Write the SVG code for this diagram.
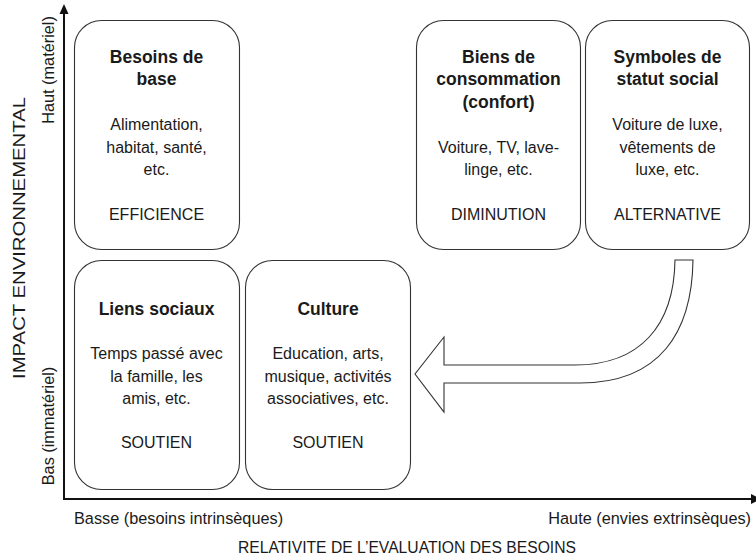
<svg xmlns="http://www.w3.org/2000/svg" width="756" height="558" viewBox="0 0 756 558">
<style>
text{font-family:"Liberation Sans",Arial,sans-serif;fill:#1a1a1a;}
.t{font-weight:bold;font-size:17.5px;text-anchor:middle;}
.b{font-size:16px;text-anchor:middle;}
.box{fill:#fff;stroke:#333;stroke-width:1.1;}
.ax{fill:none;stroke:#111;stroke-width:2;}
.lab{font-size:16.3px;}
</style>
<rect width="756" height="558" fill="#fff"/>
<g id="connectors">
  <path class="ax" d="M64,499 L64,11 M63,499 L752,499"/>
  <polygon points="64,4 59.5,14 68.5,14" fill="#111"/>
  <polygon points="761,499 751,494 751,504" fill="#111"/>
  <path id="arrow-shift" d="M693,260 C692,332 660,383 580,383 L444,383 L444,412 L415,374 L444,337 L444,365 L575,365 C640,365 674,326 675,260 Z" fill="#fff" stroke="#333" stroke-width="1.1"/>
</g>
<g id="node-besoins-base">
  <rect class="box" x="74.5" y="20.5" width="165" height="229" rx="27"/>
  <text class="t" x="156.5" y="62.5">Besoins de</text>
  <text class="t" x="156.5" y="85">base</text>
  <text class="b" x="156.5" y="130">Alimentation,</text>
  <text class="b" x="156.5" y="152.5">habitat, santé,</text>
  <text class="b" x="156.5" y="175">etc.</text>
  <text class="b" x="156.5" y="220">EFFICIENCE</text>
</g>
<g id="node-biens-consommation">
  <rect class="box" x="416.5" y="20.5" width="164" height="229" rx="27"/>
  <text class="t" x="498.5" y="62.5">Biens de</text>
  <text class="t" x="498.5" y="85">consommation</text>
  <text class="t" x="498.5" y="107.5">(confort)</text>
  <text class="b" x="498.5" y="152.5">Voiture, TV, lave-</text>
  <text class="b" x="498.5" y="175">linge, etc.</text>
  <text class="b" x="498.5" y="220">DIMINUTION</text>
</g>
<g id="node-symboles-statut">
  <rect class="box" x="585.5" y="20.5" width="164" height="229" rx="27"/>
  <text class="t" x="667.5" y="62.5">Symboles de</text>
  <text class="t" x="667.5" y="85">statut social</text>
  <text class="b" x="667.5" y="130">Voiture de luxe,</text>
  <text class="b" x="667.5" y="152.5">vêtements de</text>
  <text class="b" x="667.5" y="175">luxe, etc.</text>
  <text class="b" x="667.5" y="220">ALTERNATIVE</text>
</g>
<g id="node-liens-sociaux">
  <rect class="box" x="74.5" y="260.5" width="165" height="229" rx="27"/>
  <text class="t" x="156.5" y="315">Liens sociaux</text>
  <text class="b" x="156.5" y="359">Temps passé avec</text>
  <text class="b" x="156.5" y="381.5">la famille, les</text>
  <text class="b" x="156.5" y="404">amis, etc.</text>
  <text class="b" x="156.5" y="448">SOUTIEN</text>
</g>
<g id="node-culture">
  <rect class="box" x="245.5" y="260.5" width="165" height="229" rx="27"/>
  <text class="t" x="328" y="315">Culture</text>
  <text class="b" x="328" y="359">Education, arts,</text>
  <text class="b" x="328" y="381.5">musique, activités</text>
  <text class="b" x="328" y="404">associatives, etc.</text>
  <text class="b" x="328" y="448">SOUTIEN</text>
</g>
<g id="axis-labels">
  <text class="lab" x="74" y="524">Basse (besoins intrinsèques)</text>
  <text class="lab" x="751" y="524" text-anchor="end">Haute (envies extrinsèques)</text>
  <text class="lab" x="407" y="553" text-anchor="middle" textLength="338" lengthAdjust="spacingAndGlyphs">RELATIVITE DE L’EVALUATION DES BESOINS</text>
  <text class="lab" transform="translate(25,238) rotate(-90)" text-anchor="middle" textLength="282" lengthAdjust="spacingAndGlyphs" style="font-size:17px">IMPACT ENVIRONNEMENTAL</text>
  <text class="lab" transform="translate(54,70) rotate(-90)" text-anchor="middle">Haut (matériel)</text>
  <text class="lab" transform="translate(54,426) rotate(-90)" text-anchor="middle">Bas (immatériel)</text>
</g>
</svg>
